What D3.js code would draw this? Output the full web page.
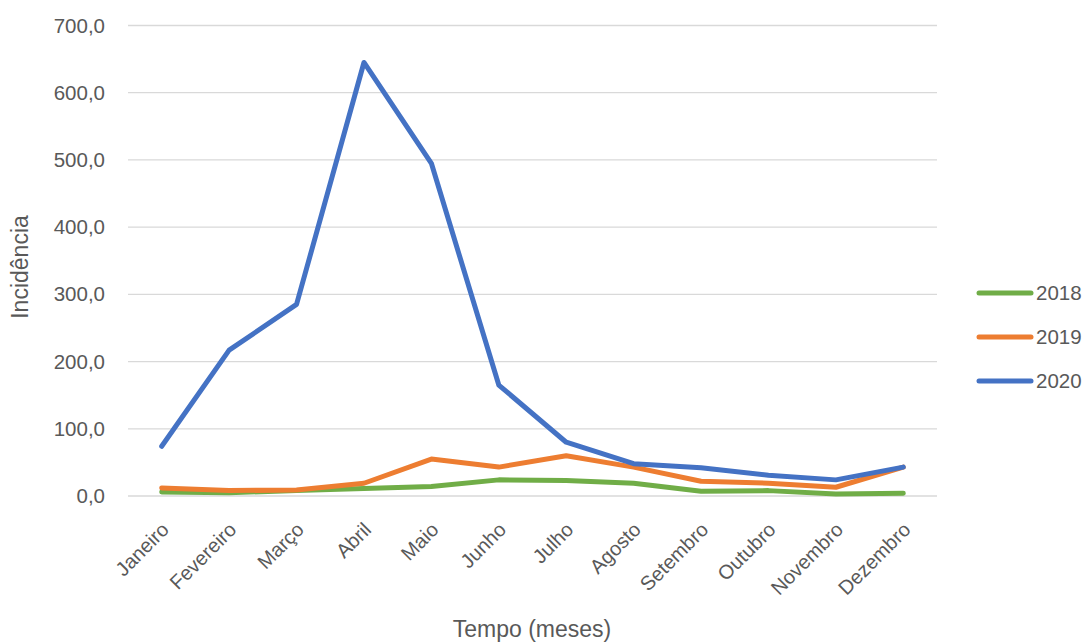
<!DOCTYPE html>
<html><head><meta charset="utf-8">
<script src="https://cdn.jsdelivr.net/npm/d3@7"></script>
<style>body{margin:0;background:#fff;} text{font-family:"Liberation Sans","DejaVu Sans",sans-serif;}</style>
</head><body><svg id="c" width="1087" height="644"></svg>
<script>
const months = ["Janeiro","Fevereiro","Março","Abril","Maio","Junho","Julho","Agosto","Setembro","Outubro","Novembro","Dezembro"];
const s2018 = [6,5,8,11,14,24,23,19,7,8,3,4];
const s2019 = [12,8,9,19,55,43,60,43,22,19,13,43];
const s2020 = [74,217,285,645,495,165,80,48,42,31,24,43];
const yTicks = [0,100,200,300,400,500,600,700];
const seriesNames = ["2018","2019","2020"];
const colors = ["#70AD47","#ED7D31","#4472C4"];

const svg = d3.select("#c");
const pL = 128, pR = 937, pT = 25.5, pB = 496;
const x = d3.scalePoint().domain(months).range([pL, pR]).padding(0.5);
const y = d3.scaleLinear().domain([0,700]).range([pB, pT]);

// gridlines
svg.append("g").selectAll("line").data(yTicks).join("line")
  .attr("x1", pL).attr("x2", pR)
  .attr("y1", d=>y(d)).attr("y2", d=>y(d))
  .attr("stroke", "#d9d9d9").attr("stroke-width", 1.3);

// y axis labels
const yAxis = d3.axisLeft(y).tickValues(yTicks).tickSize(0).tickPadding(0)
  .tickFormat(d => d3.format(".1f")(d).replace(".", ","));
const gy = svg.append("g").attr("transform", `translate(${pL-23},0)`).call(yAxis);
gy.select(".domain").remove();
gy.selectAll("text").attr("font-size", 20.5).attr("fill", "#595959").attr("font-family", "Liberation Sans, sans-serif");

// x axis labels
const xAxis = d3.axisBottom(x).tickSize(0).tickPadding(0);
const gx = svg.append("g").attr("transform", `translate(0,${pB})`).call(xAxis);
gx.select(".domain").remove();
gx.selectAll("text").attr("font-size", 20).attr("fill", "#595959")
  .attr("text-anchor", "end").attr("y", 0).attr("dy", 0)
  .attr("transform", "translate(8,35) rotate(-45)").attr("font-family", "Liberation Sans, sans-serif");

// lines
const data = [s2018, s2019, s2020];
const line = d3.line().x((d,i)=>x(months[i])).y(d=>y(d));
svg.append("g").selectAll("path").data(data).join("path")
  .attr("d", line).attr("fill", "none")
  .attr("stroke", (d,i)=>colors[i]).attr("stroke-width", 5)
  .attr("stroke-linejoin", "round").attr("stroke-linecap", "round");

// axis titles
svg.append("text").attr("x", 532).attr("y", 637)
  .attr("text-anchor", "middle").attr("font-size", 23).attr("fill", "#595959").text("Tempo (meses)");
svg.append("text").attr("transform", `translate(28,267) rotate(-90)`)
  .attr("text-anchor", "middle").attr("font-size", 23).attr("fill", "#595959").text("Incidência");

// legend
const lg = svg.append("g").selectAll("g").data(seriesNames).join("g")
  .attr("transform", (d,i)=>`translate(0,${293 + i*44})`);
lg.append("line").attr("x1", 979).attr("x2", 1031).attr("y1", 0).attr("y2", 0)
  .attr("stroke", (d,i)=>colors[i]).attr("stroke-width", 5).attr("stroke-linecap", "round");
lg.append("text").attr("x", 1036).attr("y", 0).attr("dy", "0.36em")
  .attr("font-size", 20.5).attr("fill", "#595959").text(d=>d);
</script></body></html>
